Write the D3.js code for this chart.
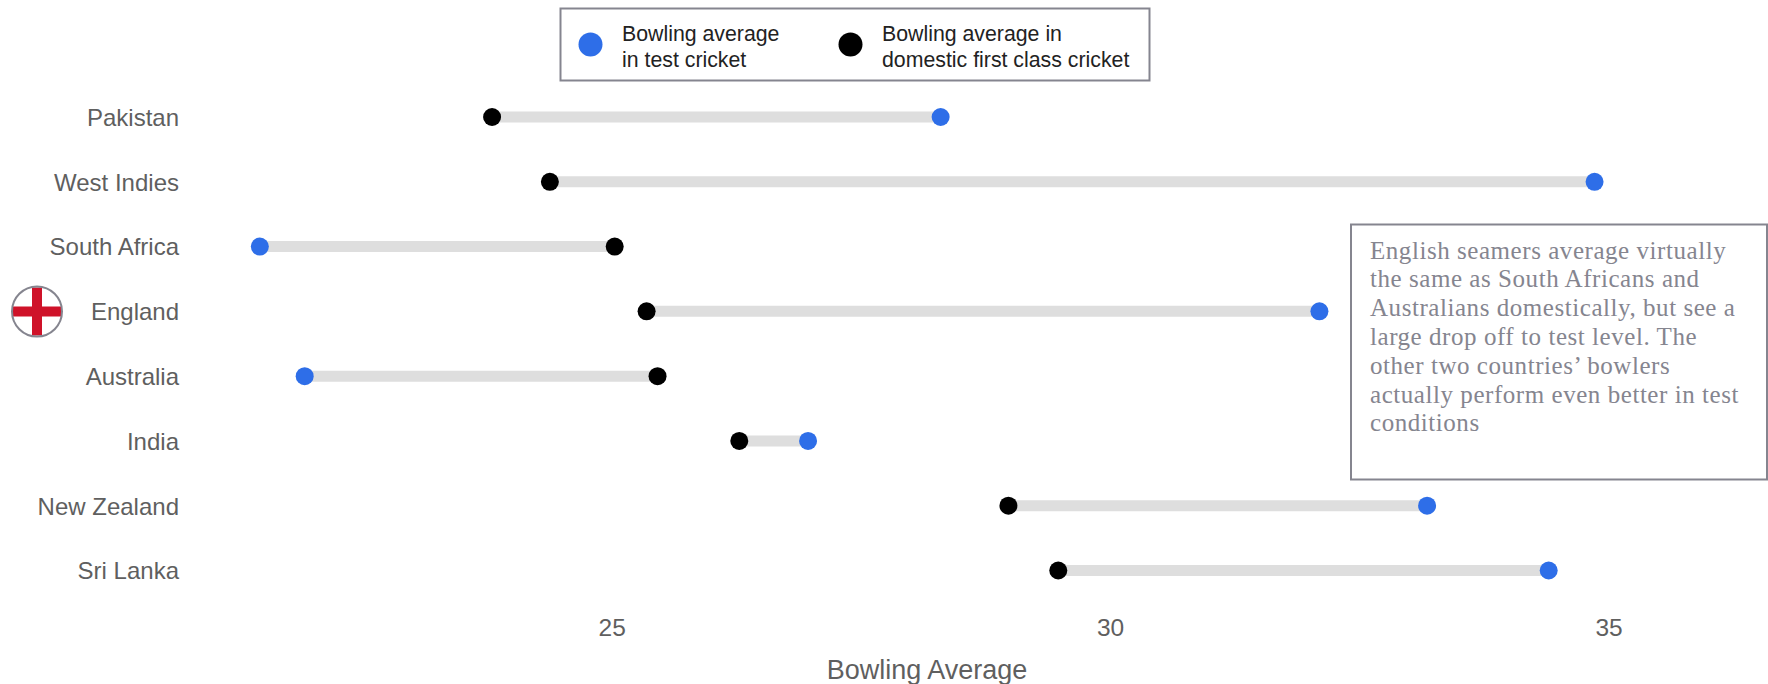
<!DOCTYPE html>
<html><head><meta charset="utf-8">
<script src="https://cdn.jsdelivr.net/npm/d3@7/dist/d3.min.js"></script>
<style>html,body{margin:0;padding:0;background:#fff}svg{display:block}</style></head>
<body><svg id="c" width="1768" height="684"></svg>
<script>
const countries=["Pakistan","West Indies","South Africa","England","Australia","India","New Zealand","Sri Lanka"];
const testAvg=[28.29,34.85,21.46,32.09,21.91,26.96,33.17,34.39];
const domesticAvg=[23.79,24.37,25.02,25.34,25.45,26.27,28.97,29.47];
const xTicks=[25,30,35];
const noteLines=["English seamers average virtually","the same as South Africans and","Australians domestically, but see a","large drop off to test level. The","other two countries’ bowlers","actually perform even better in test","conditions"];
const legendTest=["Bowling average","in test cricket"];
const legendDomestic=["Bowling average in","domestic first class cricket"];
const SANS='"Liberation Sans",Arial,sans-serif', SERIF='"Liberation Serif",Georgia,serif';
const BLUE="#2e6ee8", GREY="#5f5f5f", BOX="#85858f";

const svg=d3.select("#c");
const x=d3.scaleLinear().domain([25,35]).range([612.7,1609.5]);
const y=d3.scalePoint().domain(countries).range([117,570.5]);

// dumbbells
svg.append("g").selectAll("line").data(countries).join("line")
  .attr("x1",(d,i)=>x(testAvg[i])).attr("x2",(d,i)=>x(domesticAvg[i]))
  .attr("y1",d=>y(d)).attr("y2",d=>y(d))
  .attr("stroke","#dedede").attr("stroke-width",11);
svg.append("g").selectAll("circle").data(countries).join("circle")
  .attr("cx",(d,i)=>x(testAvg[i])).attr("cy",d=>y(d)).attr("r",9).attr("fill",BLUE);
svg.append("g").selectAll("circle").data(countries).join("circle")
  .attr("cx",(d,i)=>x(domesticAvg[i])).attr("cy",d=>y(d)).attr("r",9).attr("fill","#000");

// y labels
svg.append("g").selectAll("text").data(countries).join("text")
  .attr("x",179).attr("y",d=>y(d)+0.5).attr("dy","0.35em").attr("text-anchor","end")
  .attr("font-family",SANS).attr("font-size",24).attr("fill",GREY).text(d=>d);

// x axis
const axis=svg.append("g").attr("transform","translate(-1,619)")
  .call(d3.axisBottom(x).tickValues(xTicks).tickSize(0).tickPadding(0));
axis.select(".domain").remove();
axis.selectAll("text").attr("font-family",SANS).attr("font-size",24.5).attr("fill",GREY).attr("dy","0.71em");
svg.append("text").attr("x",927).attr("y",679).attr("text-anchor","middle")
  .attr("font-family",SANS).attr("font-size",27).attr("fill",GREY).text("Bowling Average");

// flag
const f=svg.append("g").attr("transform","translate(37,311.5)");
f.append("circle").attr("r",25).attr("fill","#fff");
f.append("rect").attr("x",-24).attr("y",-5).attr("width",48).attr("height",10).attr("fill","#cf1229");
f.append("rect").attr("x",-5).attr("y",-24).attr("width",10).attr("height",48).attr("fill","#cf1229");
f.append("circle").attr("r",25).attr("fill","none").attr("stroke",BOX).attr("stroke-width",2);

// legend
const lg=svg.append("g");
lg.append("rect").attr("x",560.5).attr("y",8.5).attr("width",589).attr("height",72)
  .attr("fill","#fff").attr("stroke",BOX).attr("stroke-width",2);
lg.append("circle").attr("cx",590.5).attr("cy",44.5).attr("r",12).attr("fill",BLUE);
lg.append("circle").attr("cx",850.5).attr("cy",44.5).attr("r",12).attr("fill","#000");
const lt=(lines,xp)=>lg.append("g").selectAll("text").data(lines).join("text")
  .attr("x",xp).attr("y",(d,i)=>40.5+i*26).attr("font-family",SANS).attr("font-size",21.3).attr("fill","#222").text(d=>d);
lt(legendTest,622); lt(legendDomestic,882);

// note
svg.append("rect").attr("x",1351).attr("y",224.5).attr("width",416).attr("height",255)
  .attr("fill","#fff").attr("stroke",BOX).attr("stroke-width",2);
svg.append("g").selectAll("text").data(noteLines).join("text")
  .attr("x",1370).attr("y",(d,i)=>258.5+i*28.8).attr("font-family",SERIF).attr("font-size",25)
  .attr("letter-spacing",0.55).attr("fill","#85858f").text(d=>d);
</script></body></html>
